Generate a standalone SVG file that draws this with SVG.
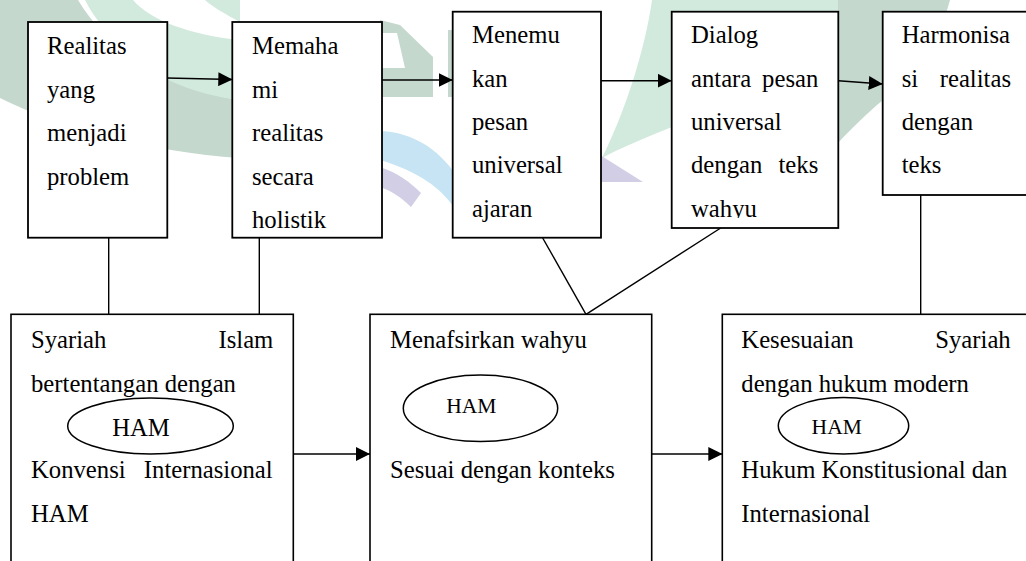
<svg xmlns="http://www.w3.org/2000/svg" width="1026" height="561" viewBox="0 0 1026 561">
<style>
.box{fill:#ffffff;stroke:#000000;stroke-width:1.8}
.bbox{fill:#ffffff;stroke:#000000;stroke-width:1.6}
.ln{fill:none;stroke:#000000;stroke-width:1.4}
.ell{fill:none;stroke:#000000;stroke-width:1.5}
text{font-family:"Liberation Serif","Times New Roman",serif;font-size:24.7px;fill:#000000}
.sm{font-size:21.5px}
.end{text-anchor:end}
.mid{text-anchor:middle}
.wm-g{fill:#c4d8ce}
.wm-m{fill:#d1eadd}
.wm-b{fill:#c6e4f3}
.wm-p{fill:#d2cee6}
</style>
<defs>
<marker id="ah" markerUnits="userSpaceOnUse" markerWidth="14" markerHeight="14" refX="14" refY="7" orient="auto">
<path d="M0,0 L14,7 L0,14 Z" fill="#000000"/>
</marker>
<clipPath id="clip4"><rect x="672" y="12" width="166" height="206"/></clipPath>
</defs>
<rect width="1026" height="561" fill="#ffffff"/>
<g id="watermark">
<path class="wm-g" d="M0,0 L78,0 C105,45 160,88 240,100 L240,158 C150,152 60,128 0,98 Z"/>
<path class="wm-m" d="M85,0 L133,0 C150,20 190,35 240,40 L240,100 C190,94 150,75 125,50 C108,34 94,18 85,0 Z"/>
<path class="wm-m" d="M205,0 L240,0 L240,22 C225,14 213,7 205,0 Z"/>
<path class="wm-g" d="M380,20 L400,25 L433,57 L433,97 L380,97 Z M380,33 L397,33 L405,68 L380,68 Z" fill-rule="evenodd"/>
<path class="wm-g" d="M448,30 L453,30 L453,97 L448,97 Z"/>
<path class="wm-b" d="M380,131 C405,132 432,142 454,172 L454,207 C440,188 420,172 380,160 Z"/>
<path class="wm-p" d="M380,167 C398,173 410,182 421,193 L411,207 C402,198 392,191 380,187 Z"/>
<path class="wm-m" d="M602,158 C625,112 645,50 652,0 L840,0 L840,12 C760,60 715,110 672,127 C645,138 620,148 602,158 Z"/>
<path class="wm-p" d="M600,155 L643,182 L600,182 Z"/>
<path class="wm-g" d="M838,0 L950,0 C938,45 915,80 883,100 C865,115 850,130 839,142 Z"/>
</g>
<g id="connectors">
<line class="ln" x1="167" y1="78" x2="232.3" y2="79.5" marker-end="url(#ah)"/>
<line class="ln" x1="382" y1="80" x2="452.7" y2="80" marker-end="url(#ah)"/>
<line class="ln" x1="601" y1="80.7" x2="671.7" y2="80.7" marker-end="url(#ah)"/>
<line class="ln" x1="838.3" y1="80.7" x2="882.7" y2="84" marker-end="url(#ah)"/>
<line class="ln" x1="293.3" y1="454" x2="370" y2="454" marker-end="url(#ah)"/>
<line class="ln" x1="651.7" y1="454" x2="722.3" y2="454" marker-end="url(#ah)"/>
<line class="ln" x1="108.7" y1="238" x2="108.7" y2="314.3"/>
<line class="ln" x1="259.3" y1="238" x2="259.3" y2="314.3"/>
<line class="ln" x1="542.7" y1="238" x2="586" y2="314.3"/>
<line class="ln" x1="720.7" y1="228" x2="586" y2="314.3"/>
<line class="ln" x1="920.7" y1="195" x2="920.7" y2="314.3"/>
</g>
<g id="n1">
<rect class="box" x="28" y="22" width="139.3" height="215.7"/>
<text x="47" y="54">Realitas</text>
<text x="47" y="97.5">yang</text>
<text x="47" y="141">menjadi</text>
<text x="47" y="184.5">problem</text>
</g>
<g id="n2">
<rect class="box" x="232.3" y="22" width="149.7" height="215.7"/>
<text x="252" y="54">Memaha</text>
<text x="252" y="97.5">mi</text>
<text x="252" y="141">realitas</text>
<text x="252" y="184.5">secara</text>
<text x="252" y="228">holistik</text>
</g>
<g id="n3">
<rect class="box" x="452.7" y="11.7" width="148.3" height="226"/>
<text x="472" y="43.3">Menemu</text>
<text x="472" y="86.7">kan</text>
<text x="472" y="130">pesan</text>
<text x="472" y="173.3">universal</text>
<text x="472" y="216.7">ajaran</text>
</g>
<g id="n4">
<rect class="box" x="671.7" y="11.7" width="166.6" height="216.3"/>
<text x="691" y="43.3">Dialog</text>
<text x="691" y="86.7">antara</text>
<text class="end" x="818.3" y="86.7">pesan</text>
<text x="691" y="130">universal</text>
<text x="691" y="173.3">dengan</text>
<text class="end" x="818.3" y="173.3">teks</text>
<text x="691" y="216.7" clip-path="url(#clip4)">wahyu</text>
</g>
<g id="n5">
<rect class="box" x="882.7" y="11.7" width="160" height="183.3"/>
<text x="901.7" y="43.3">Harmonisa</text>
<text x="901.7" y="86.7">si</text>
<text class="end" x="1011" y="86.7">realitas</text>
<text x="901.7" y="130">dengan</text>
<text x="901.7" y="173.3">teks</text>
</g>
<g id="nA">
<rect class="bbox" x="11" y="314.3" width="282.3" height="260"/>
<text x="31" y="348.3">Syariah</text>
<text class="end" x="273.3" y="348.3">Islam</text>
<text x="31" y="391.7">bertentangan dengan</text>
<ellipse class="ell" cx="150.5" cy="426" rx="82.8" ry="28"/>
<text class="mid" x="141" y="436">HAM</text>
<text x="31" y="478.3">Konvensi</text>
<text class="end" x="272.7" y="478.3">Internasional</text>
<text x="31" y="521.7">HAM</text>
</g>
<g id="nB">
<rect class="bbox" x="370" y="314.3" width="281.7" height="260"/>
<text x="390" y="348.3">Menafsirkan wahyu</text>
<ellipse class="ell" cx="480.5" cy="408.3" rx="77.2" ry="33.3"/>
<text class="sm mid" x="471.3" y="412.7">HAM</text>
<text x="390" y="478.3">Sesuai dengan konteks</text>
</g>
<g id="nC">
<rect class="bbox" x="722.3" y="314.3" width="320" height="260"/>
<text x="741.3" y="348.3">Kesesuaian</text>
<text class="end" x="1010.7" y="348.3">Syariah</text>
<text x="741.3" y="391.7">dengan hukum modern</text>
<ellipse class="ell" cx="843.5" cy="425.8" rx="65.2" ry="28.2"/>
<text class="sm mid" x="836.7" y="434">HAM</text>
<text x="741.3" y="478.3">Hukum Konstitusional dan</text>
<text x="741.3" y="521.7">Internasional</text>
</g>
</svg>
